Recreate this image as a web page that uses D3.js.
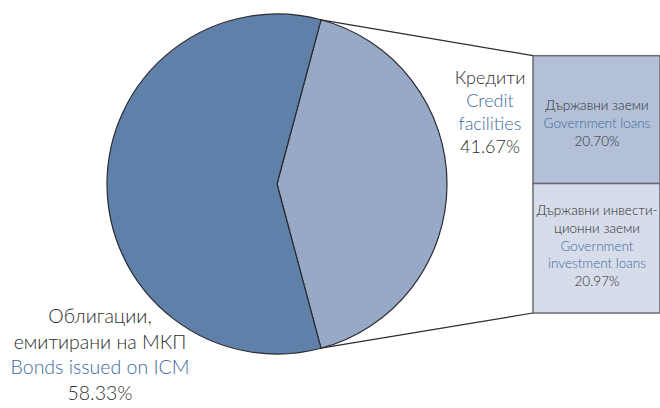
<!DOCTYPE html>
<html>
<head>
<meta charset="utf-8">
<script src="https://cdn.jsdelivr.net/npm/d3@7"></script>
<style>
  body { margin: 0; background: #fff; }
  svg { display: block; font-family: Lato, "Open Sans", sans-serif; font-weight: 300; }
</style>
</head>
<body>
<div class="chart"></div>
<script>
// pie: credit facilities vs bonds
var pieNames = ["Кредити", "Облигации"];
var pieNamesEn = ["Credit facilities", "Bonds issued on ICM"];
var pieValues = [41.67, 58.33];

// breakdown of credit facilities
var barNames = ["Държавни заеми", "Държавни инвестиционни заеми"];
var barNamesEn = ["Government loans", "Government investment loans"];
var barValues = [20.70, 20.97];

var w = 660, h = 408;
var cx = 277, cy = 184, r = 170;
var pieColors = ["#97a9c6", "#5f80a8"];
var barColors = ["#b3c0d8", "#d6dce9"];
var blue = "#3b6b9c", grey = "#2e2e2e";

var svg = d3.select('.chart').append('svg')
    .attr('width', w)
    .attr('height', h);

var start = 15 * Math.PI / 180;
var pie = d3.pie().sort(null).startAngle(start).endAngle(start + 2 * Math.PI);
var arcs = pie(pieValues);
var arc = d3.arc().innerRadius(0).outerRadius(r);

var g = svg.append('g').attr('transform', 'translate(' + cx + ',' + cy + ')');
g.selectAll('path')
    .data(arcs)
    .enter()
    .append('path')
    .attr('d', arc)
    .attr('fill', function (d, i) { return pieColors[i]; })
    .attr('stroke', '#2b2b30')
    .attr('stroke-width', 1.2)
    .attr('stroke-linejoin', 'round');

// stacked bar
var bx = 533, bw = 127;
var y = d3.scaleLinear().domain([0, d3.sum(barValues)]).range([55.7, 313]);
var cum = [0];
barValues.forEach(function (v, i) { cum.push(cum[i] + v); });

svg.selectAll('rect.seg')
    .data(barValues)
    .enter()
    .append('rect')
    .attr('class', 'seg')
    .attr('x', bx)
    .attr('y', function (d, i) { return y(cum[i]); })
    .attr('width', bw)
    .attr('height', function (d, i) { return y(cum[i + 1]) - y(cum[i]); })
    .attr('fill', function (d, i) { return barColors[i]; })
    .attr('stroke', '#6a6a72')
    .attr('stroke-width', 1.5);

// connector lines from slice edges to bar corners
var a0 = arcs[0].startAngle, a1 = arcs[0].endAngle;
var p0 = [cx + r * Math.sin(a0), cy - r * Math.cos(a0)];
var p1 = [cx + r * Math.sin(a1), cy - r * Math.cos(a1)];
svg.append('line')
    .attr('x1', p0[0]).attr('y1', p0[1])
    .attr('x2', bx).attr('y2', y(0))
    .attr('stroke', '#2b2b30').attr('stroke-width', 1.2);
svg.append('line')
    .attr('x1', p1[0]).attr('y1', p1[1])
    .attr('x2', bx).attr('y2', y(cum[2]))
    .attr('stroke', '#2b2b30').attr('stroke-width', 1.2);

function label(x, y0, dy, size, lines) {
    var t = svg.append('text')
        .attr('text-anchor', 'middle')
        .attr('font-size', size);
    lines.forEach(function (l, i) {
        t.append('tspan')
            .attr('x', x)
            .attr('y', y0 + i * dy)
            .attr('fill', l[1])
            .text(l[0]);
    });
}

var fmt = function (v) { return v.toFixed(2) + '%'; };

label(490, 84, 23, 18, [
    [pieNames[0], grey],
    ["Credit", blue],
    ["facilities", blue],
    [fmt(pieValues[0]), grey]
]);

label(100, 323, 25.5, 19.5, [
    ["Облигации,", grey],
    ["емитирани на МКП", grey],
    [pieNamesEn[1], blue],
    [fmt(pieValues[1]), grey]
]);

label(597, 110, 18, 13.5, [
    [barNames[0], grey],
    [barNamesEn[0], blue],
    [fmt(barValues[0]), grey]
]);

label(597, 215, 17.8, 13.5, [
    ["Държавни инвести-", grey],
    ["ционни заеми", grey],
    ["Government", blue],
    ["investment loans", blue],
    [fmt(barValues[1]), grey]
]);
</script>
</body>
</html>
